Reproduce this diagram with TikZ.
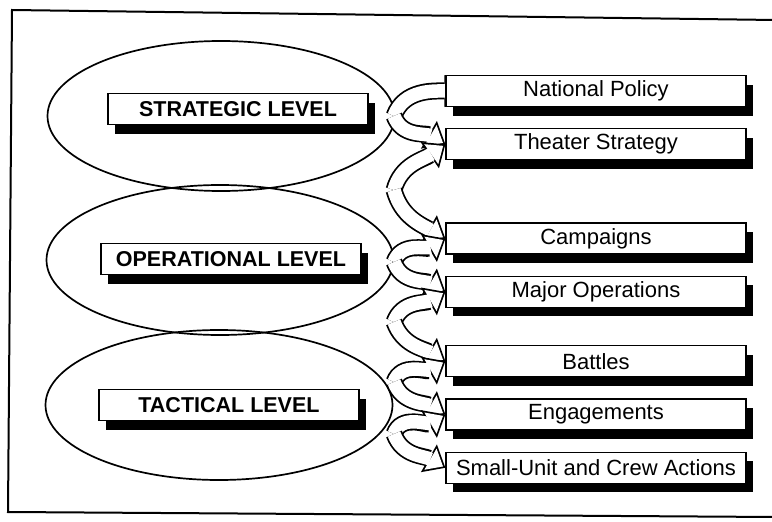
\documentclass[tikz,border=0pt]{standalone}
\usepackage{fontspec}
\setmainfont{Liberation Sans}
\usetikzlibrary{
  shapes.geometric, % Shape "ellipse"
  arrows.meta,
  positioning,      % Function "of" (e.g. [below=of x])
  backgrounds,      % Predefined layer named "background"
  shadows,          % Key "drop shadow"
}
\def\myboxheight{31pt}
\def\mygap{21pt}
% Wide hollow arrow: black body first, white body on top
\newcommand{\fatarrow}[3]{
  \draw[fat outer] (#1) to[#2] (#3);
  \draw[fat inner] (#1) to[#2] (#3);
}
\tikzset{
  x=1pt, y=1pt,
  font=\fontsize{22}{26}\selectfont,
  my shadow/.style={
    drop shadow={shadow xshift=7pt, shadow yshift=-9pt, fill=black, opacity=1}
  },
  level box/.style={
    draw,
    fill=white,
    line width=1.3pt,
    minimum width=260pt,
    minimum height=\myboxheight,
    inner sep=0pt,
    font=\fontsize{21.5}{25}\selectfont\bfseries,
    my shadow
  },
  item box/.style={
    draw,
    fill=white,
    line width=1.3pt,
    minimum width=300pt,
    minimum height=\myboxheight,
    inner sep=0pt,
    my shadow
  },
  level oval/.style={
    draw,
    ellipse,
    line width=1.7pt,
    minimum width=347pt,
    minimum height=150pt,
    inner sep=0pt
  },
  fat outer/.style={
    draw=black,
    line width=17pt,
    -{Triangle[length=19pt,width=32pt,line width=0pt]}
  },
  fat inner/.style={
    draw=white,
    line width=13.5pt,
    shorten >=2.7pt,
    -{Triangle[length=14.5pt,width=24.4pt,line width=0pt]}
  },
  frame/.style={line width=2pt}
}
\begin{document}
\begin{tikzpicture}
\useasboundingbox (0,0) rectangle (772,-522);
\draw[frame] (775,-20) -- (12,-10) -- (8,-512) -- (775,-517);

% ovals of the three levels
\begin{scope}[on background layer]
\node[level oval] (so) at (221,-116) {};
\node[level oval] (oo) at (220,-260) {};
\node[level oval] (to) at (219,-405) {};
\end{scope}

\node[level box] (sl) at (238,-109) {STRATEGIC LEVEL};
\node[level box] (ol) at (231,-259) {OPERATIONAL LEVEL};
\node[level box] (tl) at (229,-405) {TACTICAL LEVEL};

\node[item box]  (np) at (596,-91)      {National Policy};
\node[item box]  (ts) [below=\mygap of np] {Theater Strategy};
\node[item box]  (cp) [below=62pt of ts]   {Campaigns};
\node[item box]  (mo) [below=\mygap of cp] {Major Operations};
\node[item box]  (bt) [below=37pt of mo]   {Battles};
\node[item box]  (en) [below=\mygap of bt] {Engagements};
\node[item box]  (su) [below=\mygap of en] {Small-Unit and Crew Actions};

% where the arrows leave the ovals
\coordinate (j1) at (394,-116);
\coordinate (j2) at (394,-190);
\coordinate (j3) at (394,-262);
\coordinate (j4) at (394,-322);
\coordinate (j5) at (394,-382);
\coordinate (j6) at (394,-434);

\begin{scope}[on background layer]
\fatarrow{j1}{out=70,in=180}{[xshift=18pt]np.west}
\fatarrow{j1}{out=-70,in=150}{ts.west}
\fatarrow{j2}{out=75,in=215}{ts.west}
\fatarrow{j2}{out=-75,in=150}{cp.west}
\fatarrow{j3}{out=70,in=210}{cp.west}
\fatarrow{j3}{out=-70,in=150}{mo.west}
\fatarrow{j4}{out=70,in=210}{mo.west}
\fatarrow{j4}{out=-70,in=150}{bt.west}
\fatarrow{j5}{out=70,in=210}{bt.west}
\fatarrow{j5}{out=-70,in=150}{en.west}
\fatarrow{j6}{out=70,in=210}{en.west}
\fatarrow{j6}{out=-70,in=150}{su.west}
\end{scope}
\end{tikzpicture}
\end{document}
